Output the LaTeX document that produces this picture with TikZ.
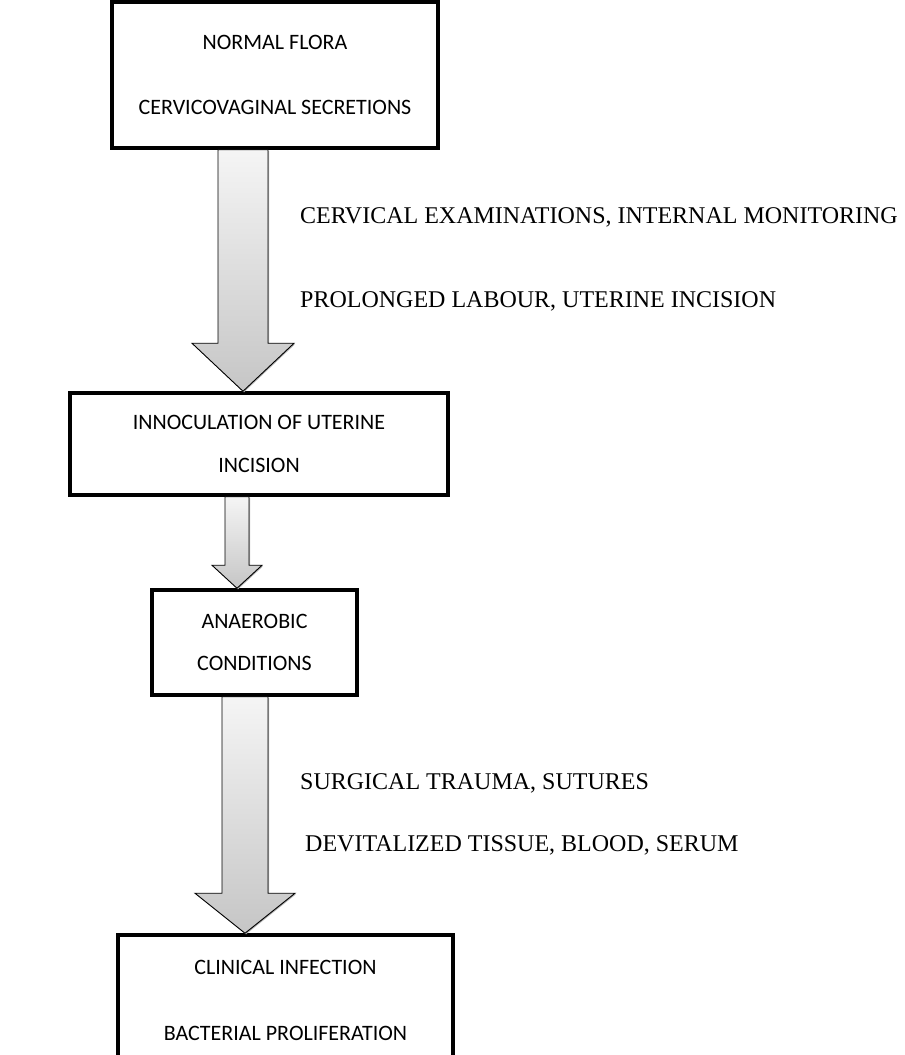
\documentclass[tikz,border=0pt]{standalone}
\usepackage{fontspec}
\setmainfont{Liberation Serif}
\newfontfamily\boxfont{Carlito}
\usetikzlibrary{calc,shadows}
\tikzset{
  box/.style={draw=black, line width=3.5pt, fill=white, inner sep=0pt, align=center,
    font=\boxfont\fontsize{22}{22}\selectfont,
    drop shadow={shadow xshift=1.5pt, shadow yshift=-1.5pt, fill=gray!70, opacity=1}},
  fatarrow/.style={draw=black, line width=0.9pt, top color=gray!8, bottom color=gray!45,
    drop shadow={shadow xshift=1pt, shadow yshift=-1pt, fill=gray!60, opacity=1}},
  lbl/.style={anchor=west, inner sep=0pt, font=\fontsize{24}{24}\selectfont}
}
\newcommand{\fatarrowpath}[5]{%
  \path[fatarrow] let \p1=(#1), \p2=(#2) in
    (\x1-#3,\y1) -- (\x1+#3,\y1) -- (\x1+#3,\y2+#5) -- (\x1+#4,\y2+#5) -- (\x1,\y2)
    -- (\x1-#4,\y2+#5) -- (\x1-#3,\y2+#5) -- cycle;}
\begin{document}
\begin{tikzpicture}[x=1pt,y=1pt]
\useasboundingbox[fill=white] (0,0) rectangle (905,-1055);
% boxes
\node[box, minimum width=326pt, minimum height=146pt] (b1) at (275,-75)
  {NORMAL FLORA\\[43pt]CERVICOVAGINAL SECRETIONS};
\node[box, minimum width=378pt, minimum height=102pt] (b2) at (259,-444)
  {INNOCULATION OF UTERINE\\[21pt]INCISION};
\node[box, minimum width=205pt, minimum height=105pt] (b3) at (254.5,-642.5)
  {ANAEROBIC\\[20pt]CONDITIONS};
\node[box, minimum width=335pt, minimum height=130pt] (b4) at (285.5,-1000)
  {CLINICAL INFECTION\\[44pt]BACTERIAL PROLIFERATION};
% arrow axes
\coordinate (ax1) at (243,0);
\coordinate (ax2) at (237,0);
\coordinate (ax3) at (245,0);
\coordinate (a1s) at (b1.south -| ax1);
\coordinate (a1e) at (b2.north -| ax1);
\coordinate (a2s) at (b2.south -| ax2);
\coordinate (a2e) at (b3.north -| ax2);
\coordinate (a3s) at (b3.south -| ax3);
\coordinate (a3e) at (b4.north -| ax3);
\fatarrowpath{a1s}{a1e}{25}{51}{48}
\fatarrowpath{a2s}{a2e}{12}{25}{23}
\fatarrowpath{a3s}{a3e}{23}{50}{40}
% labels
\node[lbl] (l1) at (300,-217) {CERVICAL EXAMINATIONS, INTERNAL MONITORING};
\node[lbl] (l2) at (300,-301) {PROLONGED LABOUR, UTERINE INCISION};
\node[lbl] (l3) at (300,-783) {SURGICAL TRAUMA, SUTURES};
\node[lbl] (l4) at (305,-845) {DEVITALIZED TISSUE, BLOOD, SERUM};
\end{tikzpicture}
\end{document}
